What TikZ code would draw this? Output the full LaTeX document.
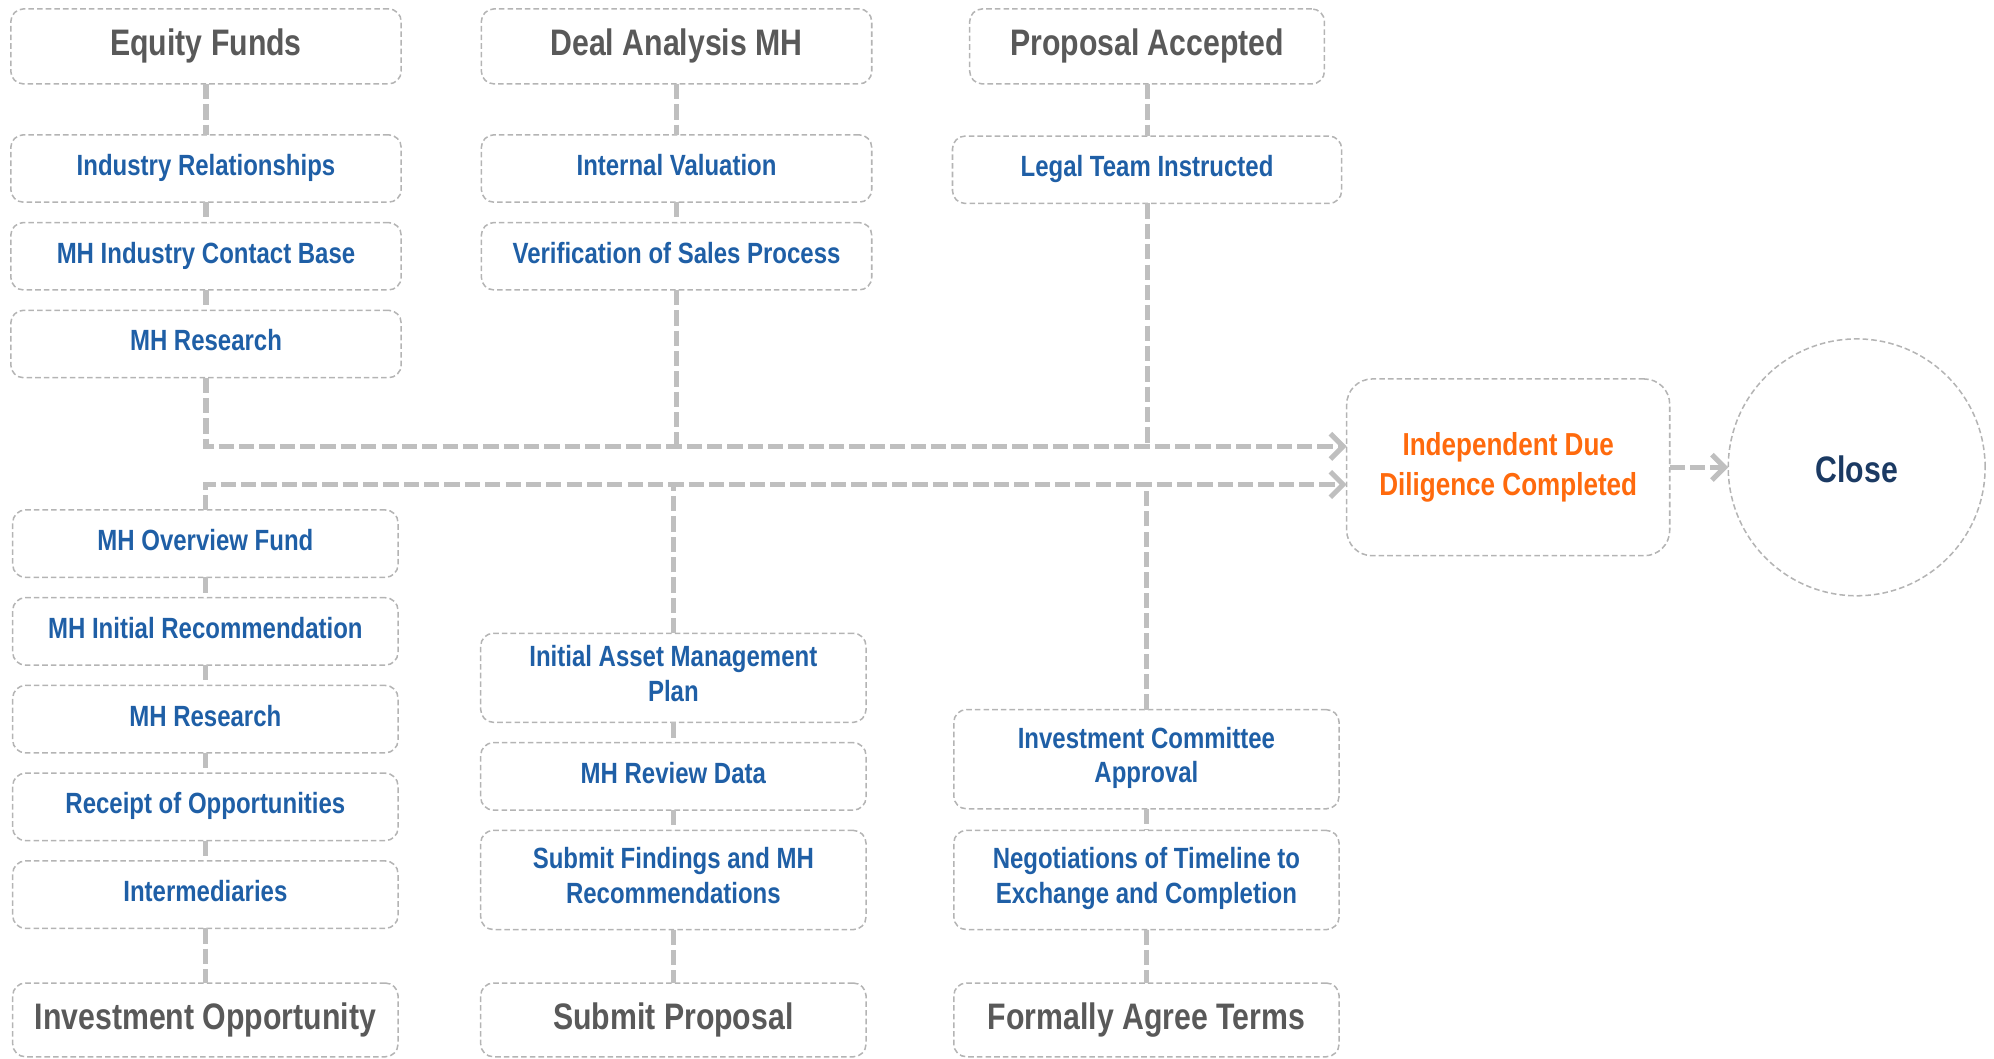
\documentclass[tikz,border=0pt]{standalone}
\usepackage{fontspec}
\setmainfont{Liberation Sans}[FakeStretch=0.82]
\usepackage{tikz}
\usetikzlibrary{positioning,arrows.meta,calc}
\definecolor{boxgray}{HTML}{B4B4B4}
\definecolor{linkgray}{HTML}{BFBFBF}
\definecolor{headgray}{HTML}{595959}
\definecolor{itemblue}{HTML}{1F5FA6}
\definecolor{iddorange}{HTML}{FF6A0D}
\definecolor{closenavy}{HTML}{1B3A63}

\begin{document}
\begin{tikzpicture}[
  box/.style={draw=boxgray, line width=0.6pt, dash pattern=on 2.2pt off 1.2pt, rounded corners=5pt, minimum width=153.5pt, inner sep=0pt, outer sep=0pt, align=center},
  head/.style={box, minimum height=29.5pt, text=headgray, font=\bfseries\fontsize{14.5}{17}\selectfont},
  item/.style={box, minimum height=26.5pt, text=itemblue, font=\bfseries\fontsize{11.5}{13.5}\selectfont},
  one/.style={text height=0.72em, text depth=0.18em},
  two/.style={minimum height=39pt, text depth=3.5pt},
  low/.style={minimum width=151.5pt},
  link/.style={draw=linkgray, line width=2pt, dash pattern=on 6pt off 2pt},
  flow/.style={link, -{Straight Barb[length=5pt,width=10pt]}},
  node distance=8pt]
\useasboundingbox (0,0) rectangle (784pt,416pt);

\node[head] (ef) at (81pt,397.75pt) {Equity Funds}; \node[head, right=31.5pt of ef] (dam) {Deal Analysis MH}; \node[head, minimum width=139.5pt, right=38.5pt of dam] (pa) {Proposal Accepted};
\node[item, one, below=20pt of ef] (ir) {Industry Relationships}; \node[item, one, below=of ir] (mic) {MH Industry Contact Base}; \node[item, one, below=of mic] (mhr) {MH Research};
\node[item, one, below=20pt of dam] (iv) {Internal Valuation}; \node[item, one, below=of iv] (vsp) {Verification of Sales Process};
\node[item, one, minimum width=153pt, below=20.5pt of pa] (lti) {Legal Team Instructed};

\node[head, low, minimum height=29pt] (io) at (80.75pt,15pt) {Investment Opportunity}; \node[head, low, minimum height=29pt, right=32.5pt of io] (sp) {Submit Proposal}; \node[head, low, minimum height=29pt, right=34.5pt of sp] (fat) {Formally Agree Terms};
\node[item, one, low, above=21.5pt of io] (imd) {Intermediaries}; \node[item, one, low, above=of imd] (roo) {Receipt of Opportunities}; \node[item, one, low, above=of roo] (mhr2) {MH Research}; \node[item, one, low, above=of mhr2] (mir) {MH Initial Recommendation}; \node[item, one, low, above=of mir] (mof) {MH Overview Fund};
\node[item, low, two, above=21pt of sp] (sfr) {Submit Findings and MH\\Recommendations}; \node[item, one, low, above=of sfr] (mrd) {MH Review Data}; \node[item, low, two, minimum height=35pt, above=of mrd] (iam) {Initial Asset Management\\Plan};
\node[item, low, two, above=21pt of fat] (ntc) {Negotiations of Timeline to\\Exchange and Completion}; \node[item, low, two, above=8.5pt of ntc] (ica) {Investment Committee\\Approval};

\node[box, minimum width=127pt, minimum height=69.5pt, rounded corners=10pt, text=iddorange, font=\bfseries\fontsize{12.5}{15.5}\selectfont] (idd) at (593pt,232.25pt) {Independent Due\\Diligence Completed};
\node[box, circle, minimum size=101pt, text=closenavy, text height=1.2em, text depth=0pt, font=\bfseries\fontsize{14.5}{17}\selectfont, right=23pt of idd] (cls) {Close};

\draw[link] (ef) -- (ir) (ir) -- (mic) (mic) -- (mhr) (dam) -- (iv) (iv) -- (vsp) (pa) -- (lti);
\draw[link] (mof) -- (mir) (mir) -- (mhr2) (mhr2) -- (roo) (roo) -- (imd) (imd) -- (io);
\draw[link] (iam) -- (mrd) (mrd) -- (sfr) (sfr) -- (sp) (ica) -- (ntc) (ntc) -- (fat);

\coordinate (j1) at ($(idd.west)+(0,8.25pt)$); \coordinate (j2) at ($(idd.west)+(0,-6.75pt)$);
\draw[flow] (mhr) |- (j1); \draw[link] (vsp) -- (vsp |- j1); \draw[link] (lti) -- (lti |- j1);
\draw[flow] (mof) |- (j2); \draw[link] (iam) -- (iam |- j2); \draw[link] (ica) -- (ica |- j2);
\draw[flow] (idd) -- (cls);
\end{tikzpicture}
\end{document}
